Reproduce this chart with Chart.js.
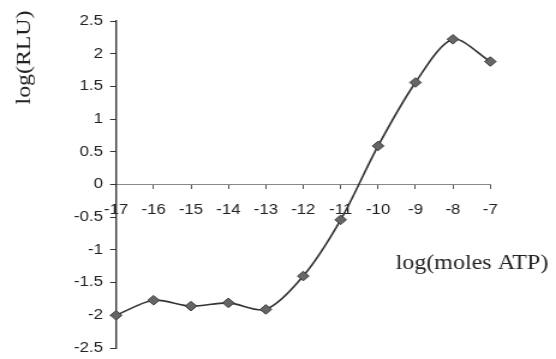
<!DOCTYPE html>
<html>
<head>
<meta charset="utf-8">
<script src="https://cdn.jsdelivr.net/npm/chart.js@4"></script>
<style>
  html, body { margin: 0; padding: 0; background: #fff; overflow: hidden; }
  #wrap { width: 463px; height: 359px; transform: scaleX(1.2009); transform-origin: 0 0; }
</style>
</head>
<body>
<div id="wrap"><canvas id="chart" width="463" height="359"></canvas></div>
<script>
// log(moles ATP) on the x axis
const logMolesATP = [-17, -16, -15, -14, -13, -12, -11, -10, -9, -8, -7];
// measured luminescence, log(RLU)
const logRLU = [-2.00, -1.77, -1.86, -1.81, -1.91, -1.40, -0.54, 0.59, 1.56, 2.22, 1.88];

const xTitle = 'log(moles ATP)';
const yTitle = 'log(RLU)';

const sansFont = "'Liberation Sans', Arial, sans-serif";
const serifFont = "'Liberation Serif', 'Times New Roman', serif";

// axis titles placed freely, as in the original figure
const axisTitles = {
  id: 'axisTitles',
  afterDraw(chart) {
    const ctx = chart.ctx;
    ctx.save();
    ctx.fillStyle = '#222';
    ctx.font = '20px ' + serifFont;
    ctx.textAlign = 'center';
    ctx.textBaseline = 'alphabetic';
    ctx.fillText(xTitle, 393, 268.5);
    ctx.restore();

    ctx.save();
    ctx.fillStyle = '#222';
    ctx.translate(20.5, 57.5);
    ctx.rotate(-Math.PI / 2);
    ctx.scale(1.4, 1);
    ctx.font = '17px ' + serifFont;
    ctx.textAlign = 'center';
    ctx.textBaseline = 'middle';
    ctx.fillText(yTitle, 0, 0);
    ctx.restore();
  }
};

new Chart(document.getElementById('chart'), {
  type: 'line',
  data: {
    datasets: [{
      data: logMolesATP.map((x, i) => ({ x, y: logRLU[i] })),
      borderColor: '#333',
      borderWidth: 1.6,
      tension: 0.3,
      clip: false,
      pointStyle: 'rectRot',
      pointRadius: 4.8,
      pointBackgroundColor: '#666',
      pointBorderColor: '#3a3a3a',
      pointBorderWidth: 1,
      fill: false
    }]
  },
  options: {
    responsive: false,
    animation: false,
    events: [],
    layout: { padding: { left: 0, right: 54.7, top: 21, bottom: 11 } },
    plugins: { legend: { display: false }, tooltip: { enabled: false } },
    scales: {
      x: {
        type: 'linear',
        position: { y: 0 },
        min: -17,
        max: -7,
        ticks: {
          stepSize: 1,
          padding: 13,
          color: '#222',
          font: { family: sansFont, size: 14 },
          maxRotation: 0,
          autoSkip: false,
          callback: v => String(v)
        },
        grid: { drawOnChartArea: false, drawTicks: true, tickLength: 4, color: '#555' },
        border: { display: true, color: '#888', width: 1, dash: [5, 2] }
      },
      y: {
        type: 'linear',
        position: 'left',
        min: -2.5,
        max: 2.5,
        ticks: {
          stepSize: 0.5,
          padding: 6,
          color: '#222',
          font: { family: sansFont, size: 14 },
          callback: v => String(v)
        },
        grid: { drawOnChartArea: false, drawTicks: true, tickLength: 5, color: '#333' },
        border: { display: true, color: '#333', width: 1.4 },
        afterFit(scale) {
          scale.width = 96.7;
          scale.paddingTop = 0;
          scale.paddingBottom = 0;
        }
      }
    }
  },
  plugins: [axisTitles]
});
</script>
</body>
</html>
